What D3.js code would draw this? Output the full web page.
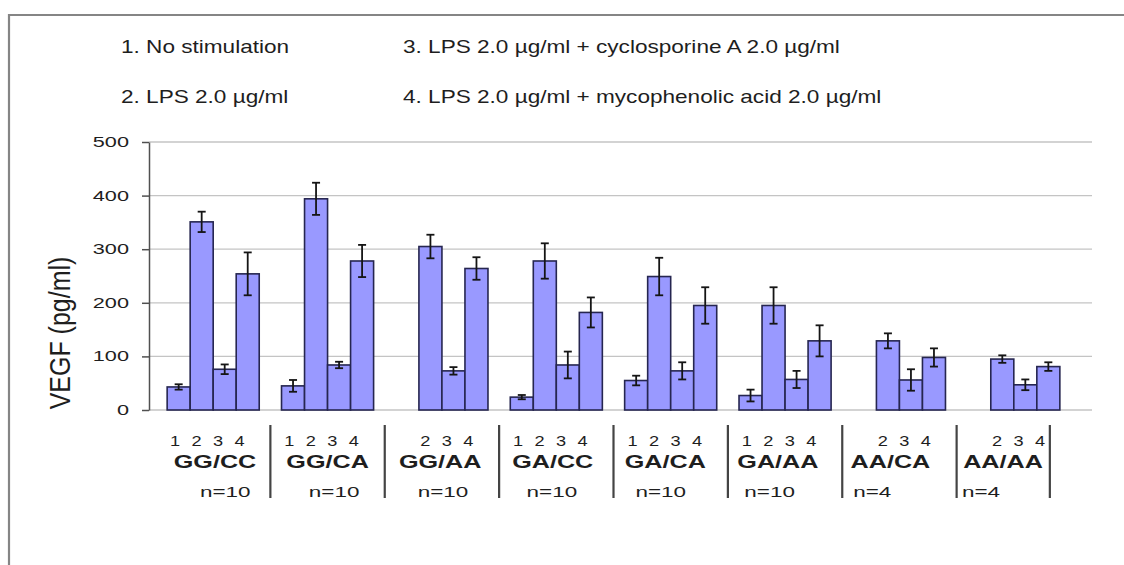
<!DOCTYPE html>
<html><head><meta charset="utf-8">
<script src="https://cdn.jsdelivr.net/npm/d3@7"></script>
<style>
body{margin:0;background:#fff}
svg{display:block}
text{font-family:"Liberation Sans", Arial, Helvetica, sans-serif; fill:#1e1e1e}
</style>
</head><body>
<svg id="c" width="1124" height="565"></svg>
<script>
// ---- data ----
const genotypes = ["GG/CC","GG/CA","GG/AA","GA/CC","GA/CA","GA/AA","AA/CA","AA/AA"];
const conditions = ["1","2","3","4"];
const sampleSizes = ["n=10","n=10","n=10","n=10","n=10","n=10","n=4","n=4"];
const noStim     = [43, 45, null, 24, 55, 27, null, null];
const noStimErr  = [5, 11, null, 4, 9, 11, null, null];
const lps        = [351, 394, 305, 278, 249, 195, 129, 95];
const lpsErr     = [19, 30, 22, 33, 35, 34, 14, 7];
const lpsCsa     = [76, 84, 73, 84, 73, 57, 56, 47];
const lpsCsaErr  = [9, 6, 7, 25, 16, 16, 20, 10];
const lpsMpa     = [254, 278, 264, 182, 195, 129, 98, 81];
const lpsMpaErr  = [40, 30, 21, 28, 34, 29, 17, 8];
const yTicks = [0, 100, 200, 300, 400, 500];
const legendItems = [
  "1. No stimulation",
  "2. LPS 2.0 \u00b5g/ml",
  "3. LPS 2.0 \u00b5g/ml + cyclosporine A 2.0 \u00b5g/ml",
  "4. LPS 2.0 \u00b5g/ml + mycophenolic acid 2.0 \u00b5g/ml"
];
const yTitle = "VEGF (pg/ml)";

const seriesVals = [noStim, lps, lpsCsa, lpsMpa];
const seriesErr = [noStimErr, lpsErr, lpsCsaErr, lpsMpaErr];
const rows = [];
genotypes.forEach((g, gi) => {
  conditions.forEach((c, ci) => {
    const v = seriesVals[ci][gi];
    if (v != null) rows.push({g, c, v, e: seriesErr[ci][gi]});
  });
});

// ---- layout ----
const svg = d3.select("#c");
const plotL = 149, plotR = 1092, plotT = 142, plotB = 410;

const y = d3.scaleLinear().domain([0, 500]).range([plotB, plotT]);
const x0 = d3.scaleBand().domain(genotypes).range([156, 1071]).paddingInner(0.195).paddingOuter(0.0975);
const x1 = d3.scaleBand().domain(conditions).range([0, x0.bandwidth()]);
const xLab = d3.scalePoint().domain(genotypes).range([215, 1003]);
const xN = d3.scalePoint().domain(genotypes).range([200, 962]);

function stretchText(sel, sx) {
  sel.each(function() {
    const t = d3.select(this);
    const xx = +t.attr("x"), yy = +t.attr("y");
    t.attr("x", 0).attr("y", 0).attr("transform", `translate(${xx},${yy}) scale(${sx},1)`);
  });
}

// frame
svg.append("line").attr("x1", 9).attr("x2", 1124).attr("y1", 15).attr("y2", 15)
  .attr("stroke", "#858585").attr("stroke-width", 2.2);
svg.append("line").attr("x1", 9).attr("x2", 9).attr("y1", 14).attr("y2", 565)
  .attr("stroke", "#858585").attr("stroke-width", 2.2);

// legend
const legPos = [[121, 53], [121, 103], [403, 53], [403, 103]];
svg.selectAll("text.leg").data(legendItems).join("text").attr("class", "leg")
  .attr("x", (d, i) => legPos[i][0]).attr("y", (d, i) => legPos[i][1])
  .attr("font-size", 18).text(d => d)
  .call(stretchText, 1.255);

// gridlines
svg.append("g").selectAll("line").data(yTicks).join("line")
  .attr("x1", plotL).attr("x2", plotR)
  .attr("y1", d => y(d)).attr("y2", d => y(d))
  .attr("stroke", "#c4c4c4").attr("stroke-width", 1.3);

// y axis
const yAxis = d3.axisLeft(y).tickValues(yTicks).tickSize(7).tickSizeOuter(0).tickFormat("");
const ga = svg.append("g").attr("transform", `translate(${plotL},0)`).call(yAxis);
ga.selectAll("path,line").attr("stroke", "#505050").attr("stroke-width", 1.5);

svg.append("g").selectAll("text").data(yTicks).join("text")
  .attr("x", 129).attr("y", d => y(d) + 5)
  .attr("text-anchor", "end").attr("font-size", 14).attr("fill", "#333")
  .text(d => d).call(stretchText, 1.55);

// y title
svg.append("text")
  .attr("transform", `translate(70,333) rotate(-90) scale(1,1.16)`)
  .attr("text-anchor", "middle").attr("font-size", 25).text(yTitle);

// bars
const bars = svg.append("g");
bars.selectAll("rect").data(rows).join("rect")
  .attr("x", d => x0(d.g) + x1(d.c))
  .attr("width", x1.bandwidth())
  .attr("y", d => y(d.v))
  .attr("height", d => y(0) - y(d.v))
  .attr("fill", "#9999ff").attr("stroke", "#262650").attr("stroke-width", 1.6);

// error bars
const eb = svg.append("g").attr("stroke", "#151515").attr("stroke-width", 1.8);
rows.forEach(d => {
  const cx = x0(d.g) + x1(d.c) + x1.bandwidth() / 2;
  eb.append("line").attr("x1", cx).attr("x2", cx).attr("y1", y(d.v + d.e)).attr("y2", y(d.v - d.e));
  eb.append("line").attr("x1", cx - 4).attr("x2", cx + 4).attr("y1", y(d.v + d.e)).attr("y2", y(d.v + d.e));
  eb.append("line").attr("x1", cx - 4).attr("x2", cx + 4).attr("y1", y(d.v - d.e)).attr("y2", y(d.v - d.e));
});

// category labels
const lab = svg.append("g");
rows.forEach(d => {
  const k = conditions.indexOf(d.c);
  const cx = x0(d.g) + x0.bandwidth() / 2 - 6 + (k - 1.5) * 21.5;
  lab.append("text").attr("x", cx).attr("y", 446).attr("text-anchor", "middle")
    .attr("font-size", 14).text(d.c).call(stretchText, 1.3);
});
lab.selectAll("text.gt").data(genotypes).join("text").attr("class", "gt")
  .attr("x", d => xLab(d)).attr("y", 468).attr("text-anchor", "middle")
  .attr("font-size", 18.5).attr("font-weight", "bold").text(d => d)
  .call(stretchText, 1.36);
lab.selectAll("text.nn").data(genotypes).join("text").attr("class", "nn")
  .attr("x", d => xN(d)).attr("y", 497)
  .attr("font-size", 15.5).text((d, i) => sampleSizes[i])
  .call(stretchText, 1.45);

// separators
const sepX = genotypes.slice(1).map(g => x0(g) - x0.step() * 0.195 / 2);
sepX.push(x0(genotypes[genotypes.length - 1]) + x0.bandwidth() - 10);
lab.selectAll("line").data(sepX).join("line")
  .attr("x1", d => d).attr("x2", d => d).attr("y1", 425).attr("y2", 498)
  .attr("stroke", "#444").attr("stroke-width", 2.2);
</script>
</body></html>
